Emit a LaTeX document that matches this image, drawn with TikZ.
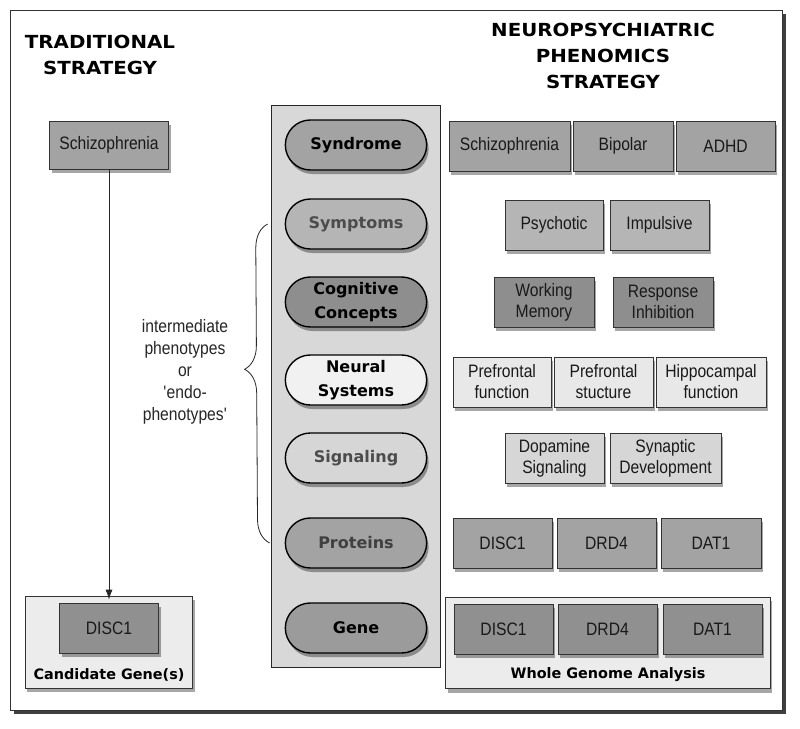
\documentclass[tikz,border=0pt]{standalone}
\usepackage{fontspec}
\setmainfont{Liberation Sans}
\newfontfamily\narrowfont[FakeStretch=0.87]{Liberation Sans}
\newfontfamily\headfont{DejaVu Sans}
\newfontfamily\titlefont[FakeStretch=1.1]{DejaVu Sans}
\usetikzlibrary{shapes.misc, arrows.meta, positioning, fit, calc, backgrounds, shadows, decorations.pathreplacing}

\definecolor{midgray}{HTML}{A3A3A3}
\definecolor{symgray}{HTML}{B5B5B5}
\definecolor{coggray}{HTML}{8E8E8E}
\definecolor{neurgray}{HTML}{E8E8E8}
\definecolor{siggray}{HTML}{D6D6D6}
\definecolor{genegray}{HTML}{909090}
\definecolor{groupgray}{HTML}{ECECEC}
\definecolor{columngray}{HTML}{D8D8D8}

\begin{document}
\begin{tikzpicture}[x=1pt, y=-1pt,
    heading/.style={font=\titlefont\bfseries\fontsize{18}{26}\selectfont, align=center},
    softshadow/.style={drop shadow={shadow xshift=2pt, shadow yshift=-4pt, opacity=0.35, fill=black}},
    level/.style={rounded rectangle, draw=black, line width=1.4pt, minimum width=148pt, minimum height=50pt, align=center, font=\headfont\bfseries\fontsize{16}{24}\selectfont, softshadow},
    cell/.style={rectangle, draw=black!80, line width=0.8pt, minimum height=50pt, align=center, text=black!90, font=\narrowfont\fontsize{18}{21}\selectfont, softshadow},
    group/.style={rectangle, draw=black!80, line width=0.8pt, fill=groupgray, inner xsep=8pt, inner ysep=6.5pt, softshadow},
    grouplabel/.style={inner sep=0pt, font=\headfont\bfseries\fontsize{14.4}{16}\selectfont},
    arrow/.style={-{Latex[length=10pt,width=7pt]}, draw=black!85, line width=0.8pt}
]
    \useasboundingbox (0,0) rectangle (800,728);

    % Frame
    \begin{scope}[on background layer]
        \draw[fill=white, draw=black!80, line width=0.8pt, drop shadow={shadow xshift=4pt, shadow yshift=-4pt, opacity=0.75, fill=black}] (10,10) rectangle (782,710);
    \end{scope}

    \node[heading] (trad) at (100,55) {TRADITIONAL\\STRATEGY};
    \node[heading] (phen) at (603,56) {NEUROPSYCHIATRIC\\PHENOMICS\\STRATEGY};

    % Traditional strategy
    \node[cell, fill=midgray, minimum width=119pt, minimum height=48pt] (tschiz) at (109,145) {Schizophrenia};
    \node[cell, fill=genegray, minimum width=99pt] (tdisc) at (109,628) {DISC1};
    \node[grouplabel] (candlabel) at (109,675) {Candidate Gene(s)};
    \begin{scope}[on background layer]
        \node[group, fit=(tdisc) (candlabel)] (candidate) {};
    \end{scope}

    % Levels
    \node[level, fill=midgray] (syndrome) at (356,145) {Syndrome};
    \node[level, fill=symgray, text=black!70] (symptoms) at (356,224) {Symptoms};
    \node[level, fill=coggray] (cognitive) at (356,302) {Cognitive\\Concepts};
    \node[level, fill=neurgray!60] (neural) at (356,380) {Neural\\Systems};
    \node[level, fill=siggray, text=black!70] (signaling) at (356,458) {Signaling};
    \node[level, fill=midgray, text=black!75] (proteins) at (356,543) {Proteins};
    \node[level, fill=genegray!90] (gene) at (356,628) {Gene};
    \begin{scope}[on background layer]
        \node[rectangle, draw=black!85, line width=1pt, fill=columngray, inner xsep=13pt, inner ysep=14pt, fit=(syndrome) (gene)] (levels) {};
    \end{scope}

    % Intermediate phenotypes
    \draw[decorate, decoration={brace, amplitude=24pt, aspect=0.545}, draw=black!85, line width=0.8pt] ($(proteins.west)+(-15,0)$) -- ($(symptoms.west)+(-17,0)$);
    \node[align=center, font=\narrowfont\fontsize{18}{22}\selectfont, text=black!85] (endo) at (185,372) {intermediate\\phenotypes\\or\\\textquotesingle endo-\\phenotypes\textquotesingle};

    % Phenomics strategy
    \node[cell, fill=midgray, minimum width=121pt] (pschiz) at (509.5,146) {Schizophrenia};
    \node[cell, fill=midgray, minimum width=100pt] (bipolar) at (623,146) {Bipolar};
    \node[cell, fill=midgray, minimum width=99pt] (adhd) at (725.5,146) {ADHD};

    \node[cell, fill=symgray, minimum width=98pt] (psychotic) at (554,225) {Psychotic};
    \node[cell, fill=symgray, minimum width=99pt] (impulsive) at (659.5,225) {Impulsive};

    \node[cell, fill=coggray, minimum width=100pt] (working) at (544,302) {Working\\Memory};
    \node[cell, fill=coggray, minimum width=100pt] (response) at (663,302) {Response\\Inhibition};

    \node[cell, fill=neurgray, minimum width=98pt] (pfunction) at (502,382) {Prefrontal\\function};
    \node[cell, fill=neurgray, minimum width=99pt] (pstructure) at (603.5,382) {Prefrontal\\stucture};
    \node[cell, fill=neurgray, minimum width=110pt] (hfunction) at (711,382) {Hippocampal\\function};

    \node[cell, fill=siggray, minimum width=99pt] (dopamine) at (554.5,458) {Dopamine\\Signaling};
    \node[cell, fill=siggray, minimum width=111pt] (synaptic) at (665.5,458) {Synaptic\\Development};

    \node[cell, fill=midgray, minimum width=99pt] (pdisc) at (502.5,543) {DISC1};
    \node[cell, fill=midgray, minimum width=99pt] (pdrd) at (606.5,543) {DRD4};
    \node[cell, fill=midgray, minimum width=100pt] (pdat) at (711,543) {DAT1};

    \node[cell, fill=genegray, minimum width=99pt] (gdisc) at (503.5,629) {DISC1};
    \node[cell, fill=genegray, minimum width=99pt] (gdrd) at (607.5,629) {DRD4};
    \node[cell, fill=genegray, minimum width=99pt] (gdat) at (712.5,629) {DAT1};
    \node[grouplabel] (wholelabel) at (608,675) {Whole Genome Analysis};
    \begin{scope}[on background layer]
        \node[group, fit=(gdisc) (gdat) (wholelabel)] (whole) {};
    \end{scope}

    % Arrows
    \draw[arrow, shorten >=3pt] (tschiz) -- (tdisc);

\end{tikzpicture}
\end{document}
